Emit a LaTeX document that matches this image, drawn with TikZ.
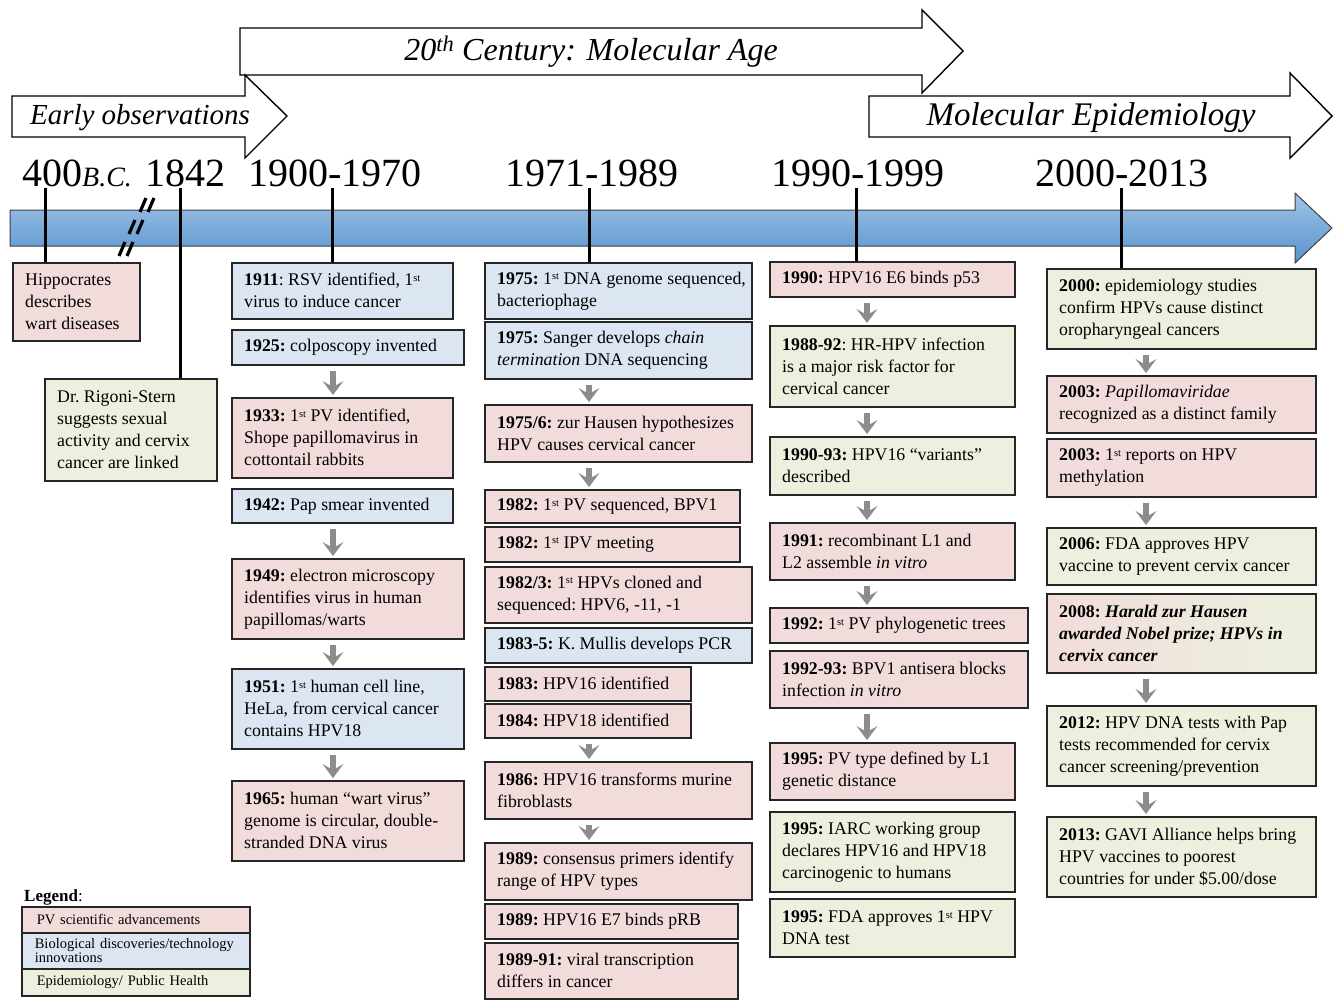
\documentclass[tikz,border=0pt]{standalone}
\usepackage{fontspec}
\setmainfont{Liberation Serif}
\usetikzlibrary{arrows.meta}
\definecolor{pvpink}{RGB}{242,220,219}
\definecolor{bioblue}{RGB}{220,230,242}
\definecolor{epigreen}{RGB}{235,241,222}
\definecolor{bordr}{RGB}{38,38,38}
\definecolor{arrgray}{RGB}{140,140,140}
\definecolor{bartop}{RGB}{160,196,232}
\definecolor{barbot}{RGB}{88,146,206}
\newcommand\ebox[7]{%
  \pgfmathsetmacro\bw{#5-#3}%
  \pgfmathsetmacro\bh{#6-#4}%
  \node[evbox,#2,minimum width=\bw pt,minimum height=\bh pt] (#1) at (#3,#4) {};
  \node[evtext] (#1t) at ([xshift=13pt]#1.west) {#7};}
\newcommand\sst{\raisebox{0.55ex}{\fontsize{10.5}{10.5}\selectfont st}}
\begin{document}
\begin{tikzpicture}[x=1pt,y=-1pt,
  evbox/.style={draw=bordr, line width=1.6pt, anchor=north west, inner sep=0pt},
  evtext/.style={anchor=west, inner sep=0pt, align=left, font=\fontsize{17.8}{22}\selectfont\frenchspacing},
  pv/.style={fill=pvpink}, bio/.style={fill=bioblue}, epi/.style={fill=epigreen},
  hdr/.style={draw=black, line width=1.4pt, fill=white},
  hdrtext/.style={inner sep=0pt},
  yearlab/.style={font=\fontsize{40}{44}\selectfont, inner sep=0pt},
  tick/.style={line width=3pt, black},
  brk/.style={line width=3.2pt, black},
  garrow/.style={draw=arrgray, line width=6pt, -{Stealth[length=14pt,width=21pt,inset=6pt]}, shorten <=5pt, shorten >=2pt},
  legbox/.style={draw=bordr, line width=1.6pt, anchor=north west, inner xsep=15pt, inner ysep=1pt, align=left, font=\fontsize{14.5}{12}\selectfont, text width=198pt, minimum width=228pt}
]
\useasboundingbox (0,0) rectangle (1340,999);

% header arrows
\draw[hdr] (240,28) -- (922,28) -- (922,10) -- (963,51) -- (922,93) -- (922,75) -- (240,75) -- cycle;
\node[hdrtext, font=\fontsize{32}{34}\selectfont\itshape] (hcent) at (591,52) {20\textsuperscript{th} Century: Molecular Age};
\draw[hdr] (12,96) -- (245,96) -- (245,75) -- (287,116) -- (245,158) -- (245,137) -- (12,137) -- cycle;
\node[hdrtext, font=\fontsize{29}{32}\selectfont\itshape] (hearly) at (140,118) {Early observations};
\draw[hdr] (869,96) -- (1290,96) -- (1290,73) -- (1332,116) -- (1290,158) -- (1290,137) -- (869,137) -- cycle;
\node[hdrtext, font=\fontsize{33}{35}\selectfont\itshape] (hmol) at (1091,118) {Molecular Epidemiology};

% year labels
\node[yearlab, anchor=base west] (y0) at (22,186) {400{\itshape\fontsize{28}{30}\selectfont B.C.}};
\node[yearlab, anchor=base west] (y1) at (145,186) {1842};
\node[yearlab, anchor=base] (y2) at (335,186) {1900-1970};
\node[yearlab, anchor=base] (y3) at (592,186) {1971-1989};
\node[yearlab, anchor=base] (y4) at (858,186) {1990-1999};
\node[yearlab, anchor=base] (y5) at (1122,186) {2000-2013};

% timeline bar
\shade[top color=bartop, bottom color=barbot, draw=black!75, line width=1pt]
  (10,210) -- (1295,210) -- (1295,193) -- (1332,228) -- (1295,263) -- (1295,246) -- (10,246) -- cycle;

% break marks
\foreach \cx/\cy in {146/205, 135/227, 125/249}{
  \draw[brk] (\cx-6,\cy+7) -- (\cx,\cy-7);
  \draw[brk] (\cx+2,\cy+7) -- (\cx+8,\cy-7);
}

% column 0
\ebox{hip}{pv}{12}{262}{139}{340}{Hippocrates\\describes\\wart diseases}
\ebox{rig}{epi}{44}{378}{216}{480}{Dr. Rigoni-Stern\\suggests sexual\\activity and cervix\\cancer are linked}

% column 1
\ebox{b1911}{bio}{231}{262}{452}{318}{\textbf{1911}: RSV identified, 1\sst\\virus to induce cancer}
\ebox{b1925}{bio}{231}{329}{463}{364}{\textbf{1925:} colposcopy invented}
\ebox{b1933}{pv}{231}{397}{452}{477}{\textbf{1933:} 1\sst{} PV identified,\\Shope papillomavirus in\\cottontail rabbits}
\ebox{b1942}{bio}{231}{488}{452}{522}{\textbf{1942:} Pap smear invented}
\ebox{b1949}{pv}{231}{558}{463}{638}{\textbf{1949:} electron microscopy\\identifies virus in human\\papillomas/warts}
\ebox{b1951}{bio}{231}{668}{463}{748}{\textbf{1951:} 1\sst{} human cell line,\\HeLa, from cervical cancer\\contains HPV18}
\ebox{b1965}{pv}{231}{780}{463}{860}{\textbf{1965:} human “wart virus”\\genome is circular, double-\\stranded DNA virus}

% column 2
\ebox{c1975a}{bio}{484}{262}{751}{318}{\textbf{1975:} 1\sst{} DNA genome sequenced,\\bacteriophage}
\ebox{c1975b}{bio}{484}{321}{751}{378}{\textbf{1975:} Sanger develops \textit{chain}\\\textit{termination} DNA sequencing}
\ebox{c19756}{pv}{484}{404}{751}{461}{\textbf{1975/6:} zur Hausen hypothesizes\\HPV causes cervical cancer}
\ebox{c1982a}{pv}{484}{489}{739}{522}{\textbf{1982:} 1\sst{} PV sequenced, BPV1}
\ebox{c1982b}{pv}{484}{526}{739}{561}{\textbf{1982:} 1\sst{} IPV meeting}
\ebox{c19823}{pv}{484}{566}{751}{622}{\textbf{1982/3:} 1\sst{} HPVs cloned and\\sequenced: HPV6, -11, -1}
\ebox{c19835}{bio}{484}{627}{751}{662}{\textbf{1983-5:} K. Mullis develops PCR}
\ebox{c1983}{pv}{484}{666}{690}{700}{\textbf{1983:} HPV16 identified}
\ebox{c1984}{pv}{484}{703}{690}{737}{\textbf{1984:} HPV18 identified}
\ebox{c1986}{pv}{484}{761}{751}{818}{\textbf{1986:} HPV16 transforms murine\\fibroblasts}
\ebox{c1989a}{pv}{484}{842}{751}{899}{\textbf{1989:} consensus primers identify\\range of HPV types}
\ebox{c1989b}{pv}{484}{903}{737}{938}{\textbf{1989:} HPV16 E7 binds pRB}
\ebox{c198991}{pv}{484}{942}{737}{998}{\textbf{1989-91:} viral transcription\\differs in cancer}

% column 3
\ebox{d1990}{pv}{769}{261}{1014}{296}{\textbf{1990:} HPV16 E6 binds p53}
\ebox{d198892}{epi}{769}{325}{1014}{406}{\textbf{1988-92}: HR-HPV infection\\is a major risk factor for\\cervical cancer}
\ebox{d199093}{epi}{769}{436}{1014}{494}{\textbf{1990-93:} HPV16 “variants”\\described}
\ebox{d1991}{pv}{769}{522}{1014}{579}{\textbf{1991:} recombinant L1 and\\L2 assemble \textit{in vitro}}
\ebox{d1992}{pv}{769}{607}{1027}{642}{\textbf{1992:} 1\sst{} PV phylogenetic trees}
\ebox{d199293}{pv}{769}{650}{1027}{707}{\textbf{1992-93:} BPV1 antisera blocks\\infection \textit{in vitro}}
\ebox{d1995a}{pv}{769}{742}{1014}{799}{\textbf{1995:} PV type defined by L1\\genetic distance}
\ebox{d1995b}{epi}{769}{811}{1014}{891}{\textbf{1995:} IARC working group\\declares HPV16 and HPV18\\carcinogenic to humans}
\ebox{d1995c}{epi}{769}{898}{1014}{956}{\textbf{1995:} FDA approves 1\sst{} HPV\\DNA test}

% column 4
\ebox{e2000}{epi}{1046}{268}{1315}{348}{\textbf{2000:} epidemiology studies\\confirm HPVs cause distinct\\oropharyngeal cancers}
\ebox{e2003a}{pv}{1046}{375}{1315}{432}{\textbf{2003:} \textit{Papillomaviridae}\\recognized as a distinct family}
\ebox{e2003b}{pv}{1046}{438}{1315}{496}{\textbf{2003:} 1\sst{} reports on HPV\\methylation}
\ebox{e2006}{epi}{1046}{527}{1315}{584}{\textbf{2006:} FDA approves HPV\\vaccine to prevent cervix cancer}
\ebox{e2008}{left color=pvpink, middle color=bioblue, right color=epigreen}{1046}{593}{1315}{672}{\textbf{2008: \textit{Harald zur Hausen}}\\\textbf{\textit{awarded Nobel prize; HPVs in}}\\\textbf{\textit{cervix cancer}}}
\ebox{e2012}{epi}{1046}{705}{1315}{785}{\textbf{2012:} HPV DNA tests with Pap\\tests recommended for cervix\\cancer screening/prevention}
\ebox{e2013}{epi}{1046}{816}{1315}{896}{\textbf{2013:} GAVI Alliance helps bring\\HPV vaccines to poorest\\countries for under \$5.00/dose}

% ticks
\coordinate (t0) at (45,188);
\coordinate (t1) at (180,188);
\coordinate (t2) at (332,188);
\coordinate (t3) at (589,188);
\coordinate (t4) at (856,188);
\coordinate (t5) at (1121,188);
\draw[tick] (t0) -- (hip.north -| t0);
\draw[tick] (t1) -- (rig.north -| t1);
\draw[tick] (t2) -- (b1911.north -| t2);
\draw[tick] (t3) -- (c1975a.north -| t3);
\draw[tick] (t4) -- (d1990.north -| t4);
\draw[tick] (t5) -- (e2000.north -| t5);

% gray arrows
\coordinate (a1) at (333,0);
\coordinate (a2) at (589,0);
\coordinate (a3) at (867,0);
\coordinate (a4) at (1146,0);
\draw[garrow] (b1925.south -| a1) -- (b1933.north -| a1);
\draw[garrow] (b1942.south -| a1) -- (b1949.north -| a1);
\draw[garrow] (b1949.south -| a1) -- (b1951.north -| a1);
\draw[garrow] (b1951.south -| a1) -- (b1965.north -| a1);
\draw[garrow] (c1975b.south -| a2) -- (c19756.north -| a2);
\draw[garrow] (c19756.south -| a2) -- (c1982a.north -| a2);
\draw[garrow] (c1984.south -| a2) -- (c1986.north -| a2);
\draw[garrow] (c1986.south -| a2) -- (c1989a.north -| a2);
\draw[garrow] (d1990.south -| a3) -- (d198892.north -| a3);
\draw[garrow] (d198892.south -| a3) -- (d199093.north -| a3);
\draw[garrow] (d199093.south -| a3) -- (d1991.north -| a3);
\draw[garrow] (d1991.south -| a3) -- (d1992.north -| a3);
\draw[garrow] (d199293.south -| a3) -- (d1995a.north -| a3);
\draw[garrow] (e2000.south -| a4) -- (e2003a.north -| a4);
\draw[garrow] (e2003b.south -| a4) -- (e2006.north -| a4);
\draw[garrow] (e2008.south -| a4) -- (e2012.north -| a4);
\draw[garrow] (e2012.south -| a4) -- (e2013.north -| a4);

% legend
\node[anchor=base west, inner sep=0pt, font=\fontsize{17}{20}\selectfont] (legt) at (24,901) {\textbf{Legend}:};
\node[legbox, pv, minimum height=26pt] (lg1) at (21,906) {PV scientific advancements};
\node[legbox, bio, minimum height=36pt, inner xsep=13pt, text width=202pt] (lg2) at (21,932) {Biological discoveries/technology\\innovations};
\node[legbox, epi, minimum height=27pt] (lg3) at (21,968) {Epidemiology/ Public Health};
\end{tikzpicture}
\end{document}
